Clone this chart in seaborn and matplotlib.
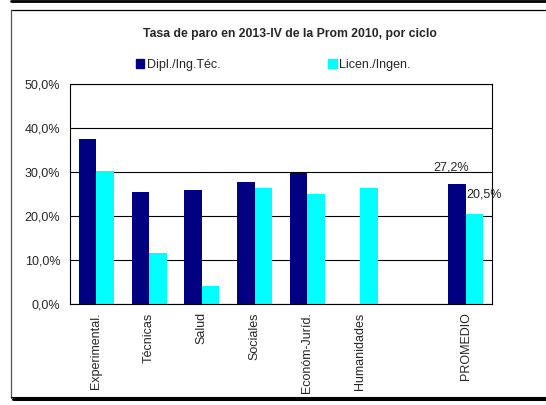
import numpy as np
import pandas as pd
import matplotlib
matplotlib.use("Agg")
import matplotlib.pyplot as plt
from matplotlib.lines import Line2D
import seaborn as sns

# Values (percent)
categories = ["Experimental.", "Técnicas", "Salud", "Sociales", "Económ-Juríd.",
              "Humanidades", " ", "PROMEDIO"]
dipl = [37.4, 25.4, 25.9, 27.7, 29.7, np.nan, np.nan, 27.2]
licen = [30.2, 11.6, 4.2, 26.4, 25.0, 26.4, np.nan, 20.5]
series = ["Dipl./Ing.Téc.", "Licen./Ingen."]
colors = ["#000080", "#00FFFF"]

df = pd.DataFrame({
    "ciclo": categories * 2,
    "serie": [series[0]] * len(categories) + [series[1]] * len(categories),
    "tasa": dipl + licen,
}).dropna()

sns.set_style("white")
plt.rcParams["font.family"] = ["Liberation Sans", "DejaVu Sans"]
plt.rcParams["font.size"] = 9

W, H = 546, 405
fig = plt.figure(figsize=(W / 100, H / 100), dpi=100)
ax = fig.add_axes([70 / W, 1 - 304 / H, (492 - 70) / W, (304 - 84) / H])

sns.barplot(data=df, x="ciclo", y="tasa", hue="serie", order=categories,
            hue_order=series, palette=colors, saturation=1, width=0.66,
            linewidth=0, ax=ax, errorbar=None)

ax.set_ylim(0, 50)
ax.set_yticks([0, 10, 20, 30, 40, 50])
ax.set_yticklabels([f"{v:.1f}%".replace(".", ",") for v in ax.get_yticks()],
                   fontsize=9)
ax.set_xlabel("")
ax.set_ylabel("")
ax.tick_params(axis="x", labelrotation=90, labelsize=9, length=0, pad=6)
ax.tick_params(axis="y", length=0, pad=7)
for t in ax.get_xticklabels():
    t.set_va("top")
ax.set_axisbelow(True)
ax.yaxis.grid(True, color="black", linewidth=0.8)
for s in ax.spines.values():
    s.set_visible(True)
    s.set_color("black")
    s.set_linewidth(0.8)

# data labels on PROMEDIO only
offsets = [(-4, 12), (7, 14)]
for cont, off in zip(ax.containers, offsets):
    bar = cont.patches[-1]
    h = bar.get_height()
    ax.annotate(f"{h:.1f}%".replace(".", ","),
                (bar.get_x() + bar.get_width() / 2, h),
                xytext=off, textcoords="offset points",
                ha="center", va="center", fontsize=9, annotation_clip=False)

ax.legend_.remove()
handles = [plt.Rectangle((0, 0), 1, 1, color=c) for c in colors]
fig.legend(handles, series, loc="center", bbox_to_anchor=(0.5, 1 - 65 / H),
           ncol=2, frameon=False, fontsize=9, handlelength=0.7,
           handleheight=0.7, handletextpad=0.2, columnspacing=8.6)

fig.text(290 / W, 1 - 34 / H, "Tasa de paro en 2013-IV de la Prom 2010, por ciclo",
         ha="center", va="center", fontsize=8.8, fontweight="bold")

# chart frame and shadow lines
def px_line(x0, y0, x1, y1, lw, color="black"):
    fig.add_artist(Line2D([x0 / W, x1 / W], [1 - y0 / H, 1 - y1 / H],
                          transform=fig.transFigure, color=color, linewidth=lw))

px_line(11, 1.2, W, 1.2, 2.0)
px_line(10.5, 9.5, W, 9.5, 0.9)
px_line(10.5, 9.5, 10.5, 397.5, 0.9, color="#555555")
px_line(10.5, 397, W, 397, 0.8)
px_line(13, 399, W, 399, 2.2)

fig.savefig("out.png", dpi=100)
